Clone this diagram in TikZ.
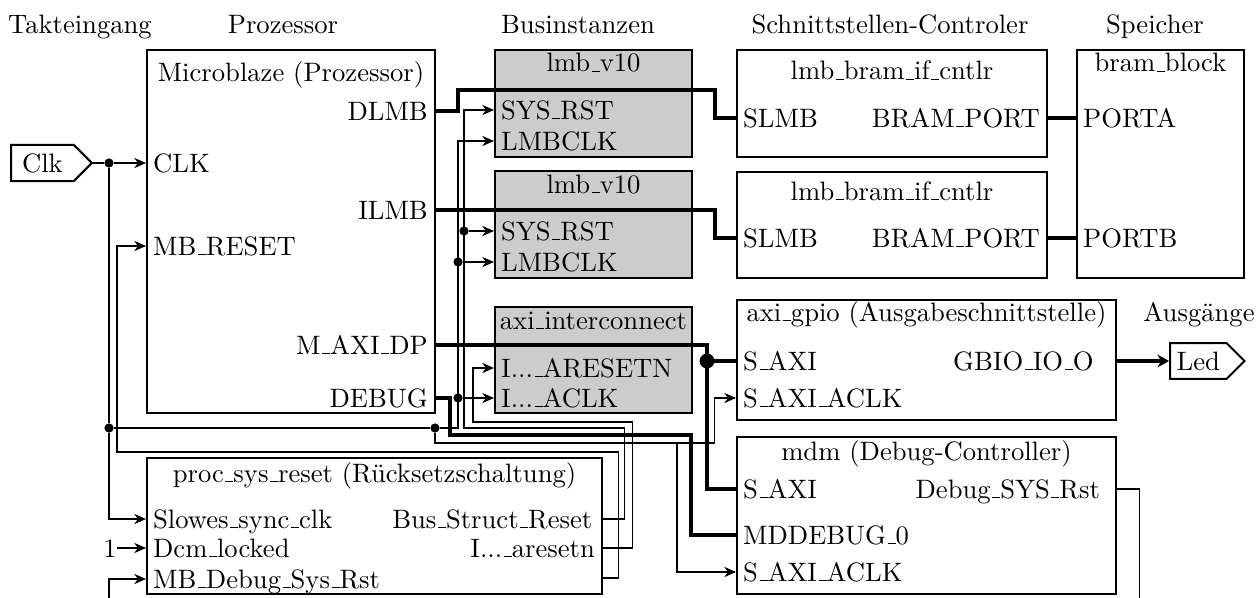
\documentclass[tikz,border=0pt]{standalone}
\usetikzlibrary{arrows.meta,positioning,fit,shapes.symbols}

\renewcommand{\_}{\leavevmode\kern.06em\vbox{\hrule width.3em}}

\tikzset{
  blk/.style={draw, line width=0.8pt, inner sep=0pt},
  busblk/.style={blk, fill=black!20},
  prt/.style={inner sep=0pt, text height=7.1pt, text depth=0pt},
  lprt/.style={prt, anchor=west, xshift=2.6pt},
  rprt/.style={prt, anchor=east, xshift=-3pt},
  ttl/.style={anchor=base, inner sep=0pt},
  hdr/.style={anchor=base, inner sep=0pt},
  bus/.style={line width=1.6pt},
  jdot/.style={circle, fill, inner sep=0pt, minimum size=3.6pt},
  iobox/.style={signal, signal to=east, draw, line width=0.8pt, minimum height=12.2pt, anchor=west},
}

\begin{document}
\begin{tikzpicture}[x=0.390625pt, y=-0.390625pt, >={Stealth[length=4.6pt,width=4pt]},
    font=\fontsize{10.4}{12.5}\selectfont]
  \useasboundingbox (0,0) rectangle (1256,598);
  \clip (0,0) rectangle (1256,598);

  % Ueberschriften
  \node[hdr] (htakt) at (80,34) {Takteingang};
  \node[hdr] (hproz) at (283,34) {Prozessor};
  \node[hdr] (hbus) at (578,34) {Businstanzen};
  \node[hdr] (hsst) at (890,34) {Schnittstellen-Controler};
  \node[hdr] (hspei) at (1155,34) {Speicher};
  \node[hdr] (hausg) at (1199,321) {Ausgänge};

  % Prozessor
  \node[blk, fit={(147,50) (435,413)}] (mb) {};
  \node[ttl] (mbt) at (mb.north |- 0,82) {Microblaze (Prozessor)};
  \node[rprt] (mbdlmb) at (mb.east |- 0,111) {DLMB};
  \node[lprt] (mbclk) at (mb.west |- 0,163) {CLK};
  \node[rprt] (mbilmb) at (mb.east |- 0,210) {ILMB};
  \node[lprt] (mbrst) at (mb.west |- 0,246) {MB\_RESET};
  \node[rprt] (mbaxi) at (mb.east |- 0,345) {M\_AXI\_DP};
  \node[rprt] (mbdbg) at (mb.east |- 0,398) {DEBUG};

  % Busse
  \node[busblk, fit={(495,50) (692,157)}] (lmbA) {};
  \node[ttl] (lmbAt) at (lmbA.north |- 0,72) {lmb\_v10};
  \node[lprt] (lmbArst) at (lmbA.west |- 0,110) {SYS\_RST};
  \node[lprt] (lmbAclk) at (lmbA.west |- 0,141) {LMBCLK};

  \node[busblk, fit={(495,171) (692,278)}] (lmbB) {};
  \node[ttl] (lmbBt) at (lmbB.north |- 0,193) {lmb\_v10};
  \node[lprt] (lmbBrst) at (lmbB.west |- 0,231) {SYS\_RST};
  \node[lprt] (lmbBclk) at (lmbB.west |- 0,262) {LMBCLK};

  \node[busblk, fit={(495,307) (692,413)}] (axi) {};
  \node[ttl] (axit) at (axi.north |- 0,329) {axi\_interconnect};
  \node[lprt] (axirst) at (axi.west |- 0,368) {I...\_ARESETN};
  \node[lprt] (axiclk) at (axi.west |- 0,398) {I...\_ACLK};

  % Schnittstellen
  \node[blk, fit={(737,50) (1047,157)}] (ctlA) {};
  \node[ttl] (ctlAt) at (ctlA.north |- 0,80) {lmb\_bram\_if\_cntlr};
  \node[lprt] (ctlAslmb) at (ctlA.west |- 0,118) {SLMB};
  \node[rprt] (ctlAport) at (ctlA.east |- 0,118) {BRAM\_PORT};

  \node[blk, fit={(737,172) (1047,278)}] (ctlB) {};
  \node[ttl] (ctlBt) at (ctlB.north |- 0,200) {lmb\_bram\_if\_cntlr};
  \node[lprt] (ctlBslmb) at (ctlB.west |- 0,238) {SLMB};
  \node[rprt] (ctlBport) at (ctlB.east |- 0,238) {BRAM\_PORT};

  \node[blk, fit={(1077,50) (1244,278)}] (bram) {};
  \node[ttl] (bramt) at (bram.north |- 0,72) {bram\_block};
  \node[lprt] (bramA) at (bram.west |- 0,118) {PORTA};
  \node[lprt] (bramB) at (bram.west |- 0,238) {PORTB};

  \node[blk, fit={(737,300) (1116,420)}] (gpio) {};
  \node[ttl] (gpiot) at (gpio.north |- 0,321) {axi\_gpio (Ausgabeschnittstelle)};
  \node[lprt] (gpioaxi) at (gpio.west |- 0,361) {S\_AXI};
  \node[rprt, xshift=-6pt] (gpioio) at (gpio.east |- 0,361) {GBIO\_IO\_O};
  \node[lprt] (gpioclk) at (gpio.west |- 0,398) {S\_AXI\_ACLK};

  \node[blk, fit={(737,437) (1116,594)}] (mdm) {};
  \node[ttl] (mdmt) at (mdm.north |- 0,460) {mdm (Debug-Controller)};
  \node[lprt] (mdmaxi) at (mdm.west |- 0,489) {S\_AXI};
  \node[rprt, xshift=-3.5pt] (mdmrst) at (mdm.east |- 0,489) {Debug\_SYS\_Rst};
  \node[lprt] (mdmdbg) at (mdm.west |- 0,535) {MDDEBUG\_0};
  \node[lprt] (mdmclk) at (mdm.west |- 0,572) {S\_AXI\_ACLK};

  % Ruecksetzschaltung
  \node[blk, fit={(147,458) (602,594)}] (psr) {};
  \node[ttl] (psrt) at (psr.north |- 0,482) {proc\_sys\_reset (Rücksetzschaltung)};
  \node[lprt] (psrclk) at (psr.west |- 0,519) {Slowes\_sync\_clk};
  \node[lprt] (psrdcm) at (psr.west |- 0,548) {Dcm\_locked};
  \node[lprt] (psrdbg) at (psr.west |- 0,579) {MB\_Debug\_Sys\_Rst};
  \node[rprt, xshift=-1pt] (psrbsr) at (psr.east |- 0,519) {Bus\_Struct\_Reset};
  \node[rprt] (psrar) at (psr.east |- 0,548) {I...\_aresetn};
  \coordinate (psrmb) at (psr.east |- 0,578);

  % Ein- und Ausgaenge
  \node[iobox, inner xsep=4.3pt] (clk) at (10,163) {Clk};
  \node[iobox, inner xsep=2.6pt] (led) at (1169,361) {Led};
  \node[prt] (one) at (110,548) {1};

  % Takt
  \node[jdot] (c1) at (109,163) {};
  \node[jdot] (c2) at (109,428) {};
  \node[jdot] (c3) at (435,428) {};
  \node[jdot] (c4) at (458,262) {};
  \node[jdot] (c5) at (458,398) {};
  \coordinate (c6) at (677,443);
  \draw (clk.east) -- (c1);
  \draw[->] (c1) -- (mb.west |- mbclk);
  \draw (c1) -- (c2);
  \draw[->] (c2) |- (psr.west |- psrclk);
  \draw (c2) -- (c3);
  \draw[->] (c3) -| (c4.center) |- (lmbA.west |- lmbAclk);
  \draw[->] (c4) -- (lmbB.west |- lmbBclk);
  \draw[->] (c5) -- (axi.west |- axiclk);
  \draw[->] (c3) |- (714,443) |- (gpio.west |- gpioclk);
  \draw[->] (c6) |- (mdm.west |- mdmclk);

  % Reset
  \node[jdot] (r2) at (464,231) {};
  \draw[->] (psrmb) -- ++(15,0) |- (117,452) |- (mb.west |- mbrst);
  \draw[->] (psr.east |- psrbsr) -- ++(21,0) |- (464,428) -- (r2.center) |- (lmbA.west |- lmbArst);
  \draw[->] (r2) -- (lmbB.west |- lmbBrst);
  \draw[->] (psr.east |- psrar) -- ++(29,0) |- (473,422) |- (axi.west |- axirst);
  \draw[->] (mdm.east |- mdmrst) -- ++(22,0) |- (109,615) |- (psr.west |- psrdbg);
  \draw[->] (one) -- (psr.west |- psrdcm);

  % Busverbindungen
  \draw[bus] (mb.east |- mbdlmb) -- (458,111) -- (458,90) -| (715,118) -- (ctlA.west |- ctlAslmb);
  \draw[bus] (mb.east |- mbilmb) -| (715,238) -- (ctlB.west |- ctlBslmb);
  \draw[bus] (ctlA.east |- ctlAport) -- (bram.west |- bramA);
  \draw[bus] (ctlB.east |- ctlBport) -- (bram.west |- bramB);
  \node[jdot, minimum size=5.8pt] (a1) at (707,361) {};
  \draw[bus] (mb.east |- mbaxi) -| (a1.center) -- (gpio.west |- gpioaxi);
  \draw[bus] (a1.center) |- (mdm.west |- mdmaxi);
  \draw[bus] (mb.east |- mbdbg) -- (450,398) |- (691,435) |- (mdm.west |- mdmdbg);
  \draw[bus, -{Stealth[length=4.5pt,width=5pt]}] (gpio.east |- gpioio) -- (led.west);
\end{tikzpicture}
\end{document}
